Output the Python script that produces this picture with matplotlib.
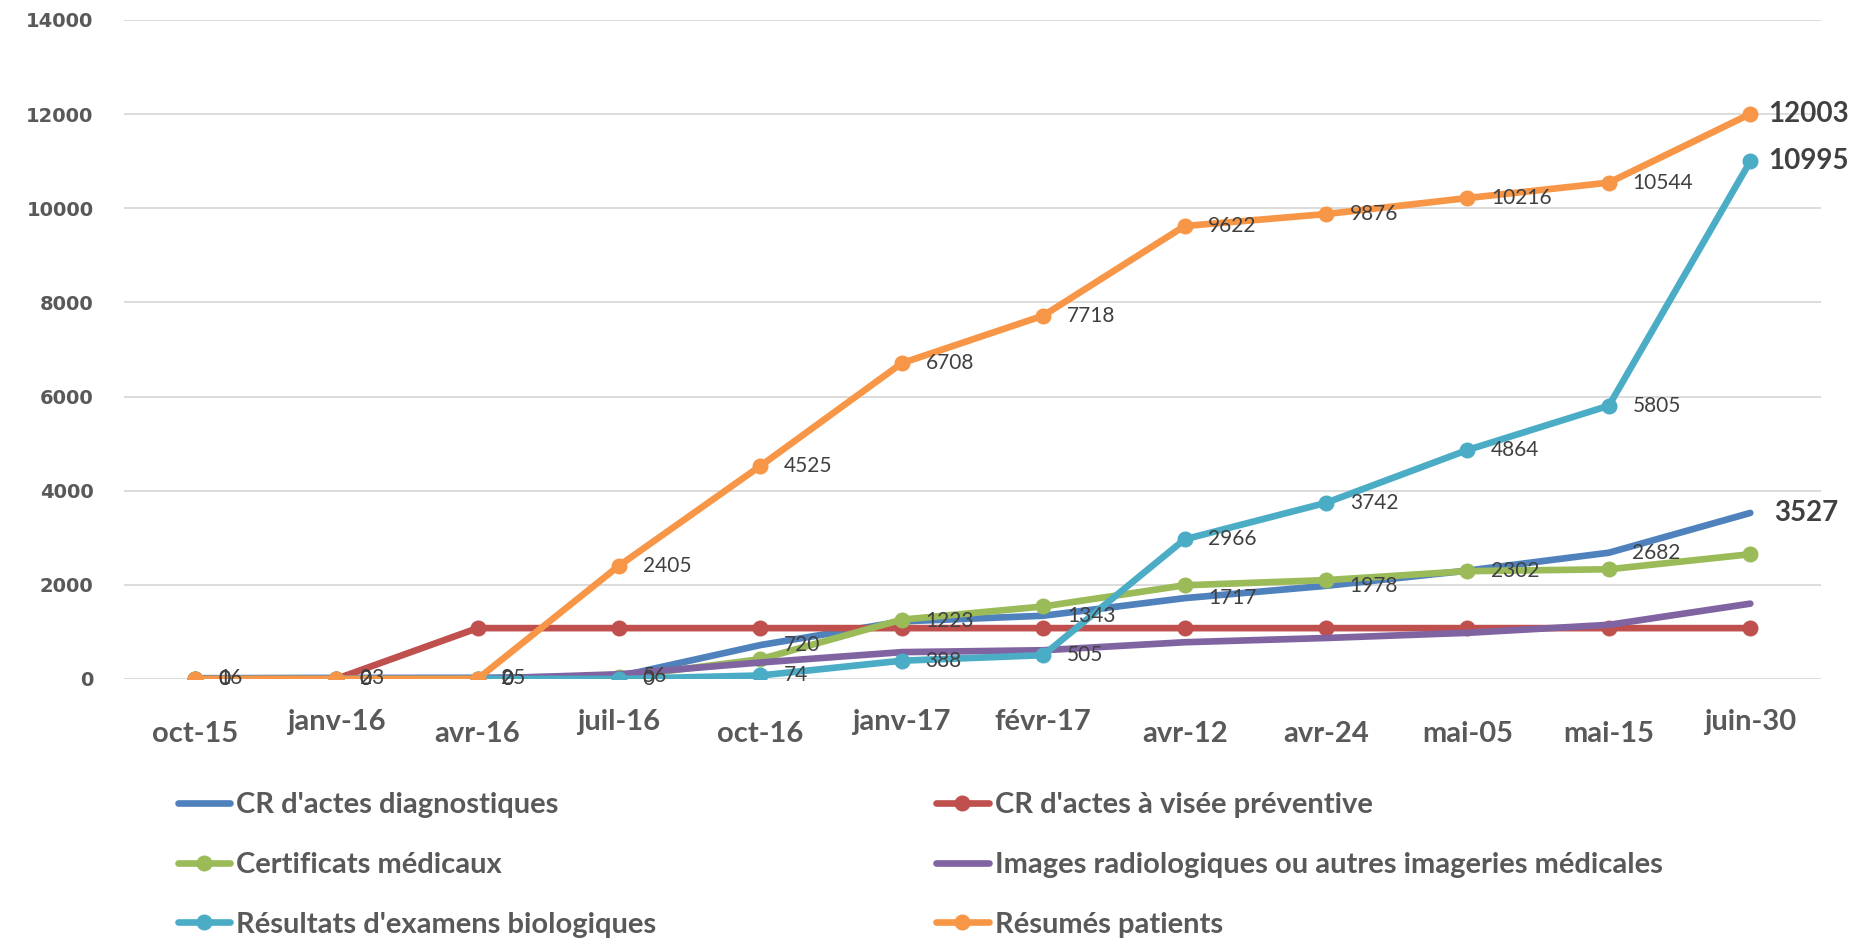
import matplotlib.pyplot as plt
from matplotlib.transforms import ScaledTranslation

# categories and series
dates = ['oct-15', 'janv-16', 'avr-16', 'juil-16', 'oct-16', 'janv-17',
         'févr-17', 'avr-12', 'avr-24', 'mai-05', 'mai-15', 'juin-30']

cr_diag = [16, 23, 25, 56, 720, 1223, 1343, 1717, 1978, 2302, 2682, 3527]
cr_prev = [0, 0, 1080, 1080, 1080, 1080, 1080, 1080, 1080, 1080, 1080, 1080]
certif = [0, 0, 0, 40, 420, 1260, 1540, 1990, 2100, 2290, 2330, 2650]
images = [0, 0, 0, 100, 350, 570, 610, 780, 870, 980, 1150, 1600]
bio = [0, 0, 0, 0, 74, 388, 505, 2966, 3742, 4864, 5805, 10995]
resumes = [0, 0, 0, 2405, 4525, 6708, 7718, 9622, 9876, 10216, 10544, 12003]

names = ["CR d'actes diagnostiques", "CR d'actes à visée préventive",
         "Certificats médicaux", "Images radiologiques ou autres imageries médicales",
         "Résultats d'examens biologiques", "Résumés patients"]
colors = ['#4F81BD', '#C0504D', '#9BBB59', '#8064A2', '#4BACC6', '#F79646']
markers = [None, 'o', 'o', None, 'o', 'o']
series = [cr_diag, cr_prev, certif, images, bio, resumes]
labelled = [0, 4, 5]  # series with data labels

fig = plt.figure(figsize=(18.54, 9.40), dpi=100)
ax = fig.add_axes([0.0669, 0.2777, 0.9153, 0.7011])

x = list(range(len(dates)))
handles = []
for s, name, c, m in zip(series, names, colors, markers):
    h, = ax.plot(x, s, color=c, lw=4.8, marker=m, markersize=10.5,
                 solid_capstyle='round', label=name)
    handles.append(h)

# data labels (last point in bold)
for k in labelled:
    s = series[k]
    for i, v in enumerate(s):
        last = i == len(s) - 1
        off = 17
        if last:
            off = 13 if markers[k] else 17
        ax.annotate(str(v), (i, v), xytext=(off, 0),
                    textcoords='offset points', va='center', ha='left',
                    fontsize=20 if last else 15,
                    fontweight='bold' if last else 'normal',
                    family='Lato', color='#404040', zorder=10)

ax.set_xlim(-0.5, 11.5)
ax.set_ylim(0, 14000)
ax.set_yticks(range(0, 14001, 2000))
ax.grid(axis='y', color='#D9D9D9', lw=1.3)
ax.set_axisbelow(True)
for sp in ax.spines.values():
    sp.set_visible(False)
ax.tick_params(length=0)
ax.tick_params(axis='y', pad=22, labelsize=14, labelcolor='#595959')
for t in ax.get_yticklabels():
    t.set_fontweight('bold')

ax.set_xticks(x)
ax.set_xticklabels(dates, fontsize=21, fontweight='bold', family='Lato',
                   color='#595959')
ax.tick_params(axis='x', pad=30.5)
high = ['janv-16', 'juil-16', 'janv-17', 'févr-17', 'juin-30']
for t in ax.get_xticklabels():
    if t.get_text() in high:
        t.set_transform(t.get_transform() + ScaledTranslation(0, 12 / 100, fig.dpi_scale_trans))

order = [0, 2, 4, 1, 3, 5]
fig.legend([handles[i] for i in order], [names[i] for i in order],
           loc='upper left', bbox_to_anchor=(0.088, 0.173), ncol=2,
           frameon=False, borderpad=0, handlelength=1.8, handletextpad=0.2,
           labelspacing=1.16, columnspacing=9.6,
           prop={'family': 'Lato', 'weight': 'bold', 'size': 21},
           labelcolor='#595959')

fig.savefig('out.png', dpi=100)
